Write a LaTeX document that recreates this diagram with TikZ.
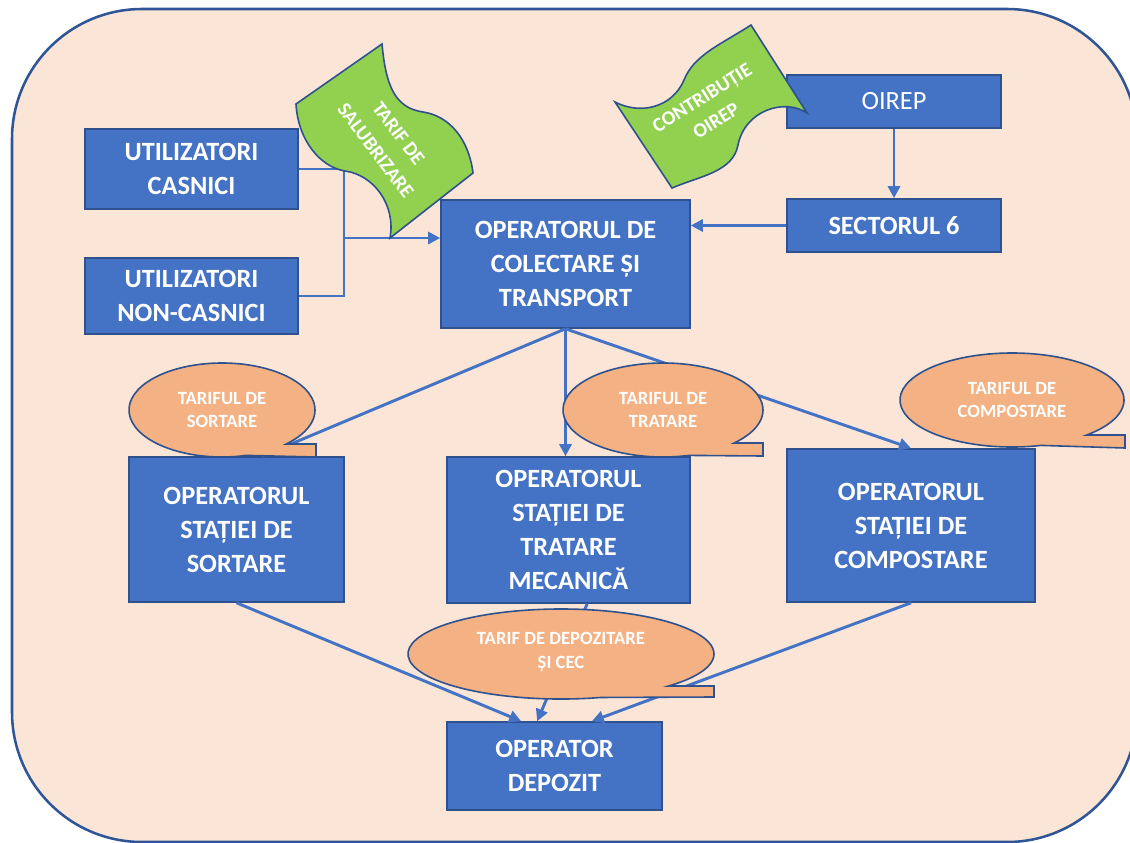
\documentclass[tikz,border=0pt]{standalone}
\usepackage{fontspec}
\setmainfont{Carlito}
\usetikzlibrary{arrows.meta}
\definecolor{bgpeach}{HTML}{FBE5D6}
\definecolor{bgline}{HTML}{2F5597}
\definecolor{boxblue}{HTML}{4472C4}
\definecolor{boxline}{HTML}{2F528F}
\definecolor{linkblue}{HTML}{4472C4}
\definecolor{bannergreen}{HTML}{92D050}
\definecolor{tarifpeach}{HTML}{F4B183}
\tikzset{every picture/.style={line width=0.75pt}}

\begin{document}
\begin{tikzpicture}[x=0.75pt,y=0.75pt,yscale=-1,xscale=1,
  box/.style={draw=boxline, fill=boxblue, line width=1.2pt, text=white, align=center, inner sep=0pt, font=\fontsize{19.75}{25.5}\selectfont\bfseries},
  boxsize/.style 2 args={minimum width=#1*0.75pt, minimum height=#2*0.75pt},
  link/.style={draw=linkblue, line width=1.6pt},
  arrow/.style={draw=linkblue, line width=2.2pt, -{Triangle[length=9pt,width=9pt]}},
  tarif/.style={draw=boxline, fill=tarifpeach, line width=1.2pt},
  tariftext/.style={text=white, align=center, inner sep=0pt, font=\fontsize{14}{17.5}\selectfont\bfseries},
  banner/.style={draw=boxline, fill=bannergreen, line width=1.2pt},
  bannertext/.style={text=white, align=center, inner sep=0pt, font=\fontsize{15}{20}\selectfont\bfseries}]
\useasboundingbox (0,0) rectangle (1130,842);
\clip (0,0) rectangle (1130,842);

%Background
\draw[draw=bgline, fill=bgpeach, line width=1.9pt, rounded corners=97.5pt] (12,9) rectangle (1137,842);

% Boxes
\node[box, boxsize={213}{80}] (casnici) at (191.5,169) {UTILIZATORI\\CASNICI};
\node[box, boxsize={213}{76}] (noncasnici) at (191.5,296) {UTILIZATORI\\NON-CASNICI};
\node[box, boxsize={249}{128}] (colectare) at (565.5,264) {OPERATORUL DE\\COLECTARE ȘI\\TRANSPORT};
\node[box, boxsize={214}{53}, font=\fontsize{19.75}{25.5}\selectfont] (oirep) at (894,101.5) {OIREP};
\node[box, boxsize={214}{53}] (sector) at (894,225.5) {SECTORUL 6};
\node[box, boxsize={215}{145}] (sortare) at (236.5,529.5) {OPERATORUL\\STAȚIEI DE\\SORTARE};
\node[box, boxsize={243}{146}] (tratare) at (568.5,530) {OPERATORUL\\STAȚIEI DE\\TRATARE\\MECANICĂ};
\node[box, boxsize={248}{153}] (compostare) at (911,525.5) {OPERATORUL\\STAȚIEI DE\\COMPOSTARE};
\node[box, boxsize={215}{88}] (depozit) at (554.5,766) {OPERATOR\\DEPOZIT};

% Connectors
\coordinate (join) at (344,238);
\draw[link] (casnici.east) -| (join) |- (noncasnici.east);
\draw[arrow] (join) -- (join -| colectare.west);
\draw[arrow] (oirep) -- (sector);
\draw[arrow] (sector.west) -- (sector.west -| colectare.east);
\draw[link, line width=2.2pt] (colectare.south) -- ([xshift=19pt]sortare.north);
\draw[arrow] (colectare.south) -- (colectare.south |- tratare.north);
\draw[arrow] (colectare.south) -- (compostare.north);
\draw[arrow] (sortare.south) -- ([xshift=-25pt]depozit.north);
\draw[arrow] ([xshift=14pt]tratare.south) -- ([xshift=-13pt]depozit.north);
\draw[arrow] (compostare.south) -- ([xshift=28pt]depozit.north);

% Callouts
\coordinate (csort) at (222,410);
\draw[tarif] ([shift={(46.3:93 and 47)}]csort) -- (316,444) -- (316,457) -- ([shift={(75:93 and 47)}]csort) arc[start angle=75, end angle=406.3, x radius=93, y radius=47] -- cycle;
\node[tariftext] (tsort) at (csort) {TARIFUL DE\\SORTARE};

\coordinate (ctrat) at (663,410);
\draw[tarif] ([shift={(44.6:100 and 47)}]ctrat) -- (763,443) -- (763,456) -- ([shift={(75:100 and 47)}]ctrat) arc[start angle=75, end angle=404.6, x radius=100, y radius=47] -- cycle;
\node[tariftext] (ttrat) at (ctrat) {TARIFUL DE\\TRATARE};

\coordinate (ccomp) at (1012,400);
\draw[tarif] ([shift={(48.1:112 and 47)}]ccomp) -- (1125,435) -- (1125,448) -- ([shift={(75:112 and 47)}]ccomp) arc[start angle=75, end angle=408.1, x radius=112, y radius=47] -- cycle;
\node[tariftext] (tcomp) at (ccomp) {TARIFUL DE\\COMPOSTARE};

\coordinate (cdepo) at (561,654);
\draw[tarif] ([shift={(45.3:153 and 45)}]cdepo) -- (714,686) -- (714,697) -- ([shift={(75:153 and 45)}]cdepo) arc[start angle=75, end angle=405.3, x radius=153, y radius=45] -- cycle;
\node[tariftext] (tdepo) at ([yshift=-1.5pt]cdepo) {TARIF DE DEPOZITARE\\ȘI CEC};

% Banners
\draw[banner] (296,104) -- (382,44) .. controls (386,88) and (396,108) .. (423,112) .. controls (450,116) and (469,140) .. (473,173) -- (390,238) .. controls (396,205) and (374,175) .. (345,171) .. controls (320,167) and (298,140) .. (296,104) -- cycle;
\node[bannertext, rotate=-53, font=\fontsize{15}{21.5}\selectfont\bfseries] (salubrizare) at (387,142) {TARIF DE\\SALUBRIZARE};

\draw[banner] (615,102) .. controls (640,115) and (672,108) .. (684,80) .. controls (694,55) and (720,45) .. (751,25) -- (807,113) .. controls (785,98) and (745,110) .. (738,145) .. controls (733,172) and (700,176) .. (672,188) -- cycle;
\node[bannertext, rotate=32] (contributie) at (709,109) {CONTRIBUȚIE\\OIREP};

\end{tikzpicture}
\end{document}
